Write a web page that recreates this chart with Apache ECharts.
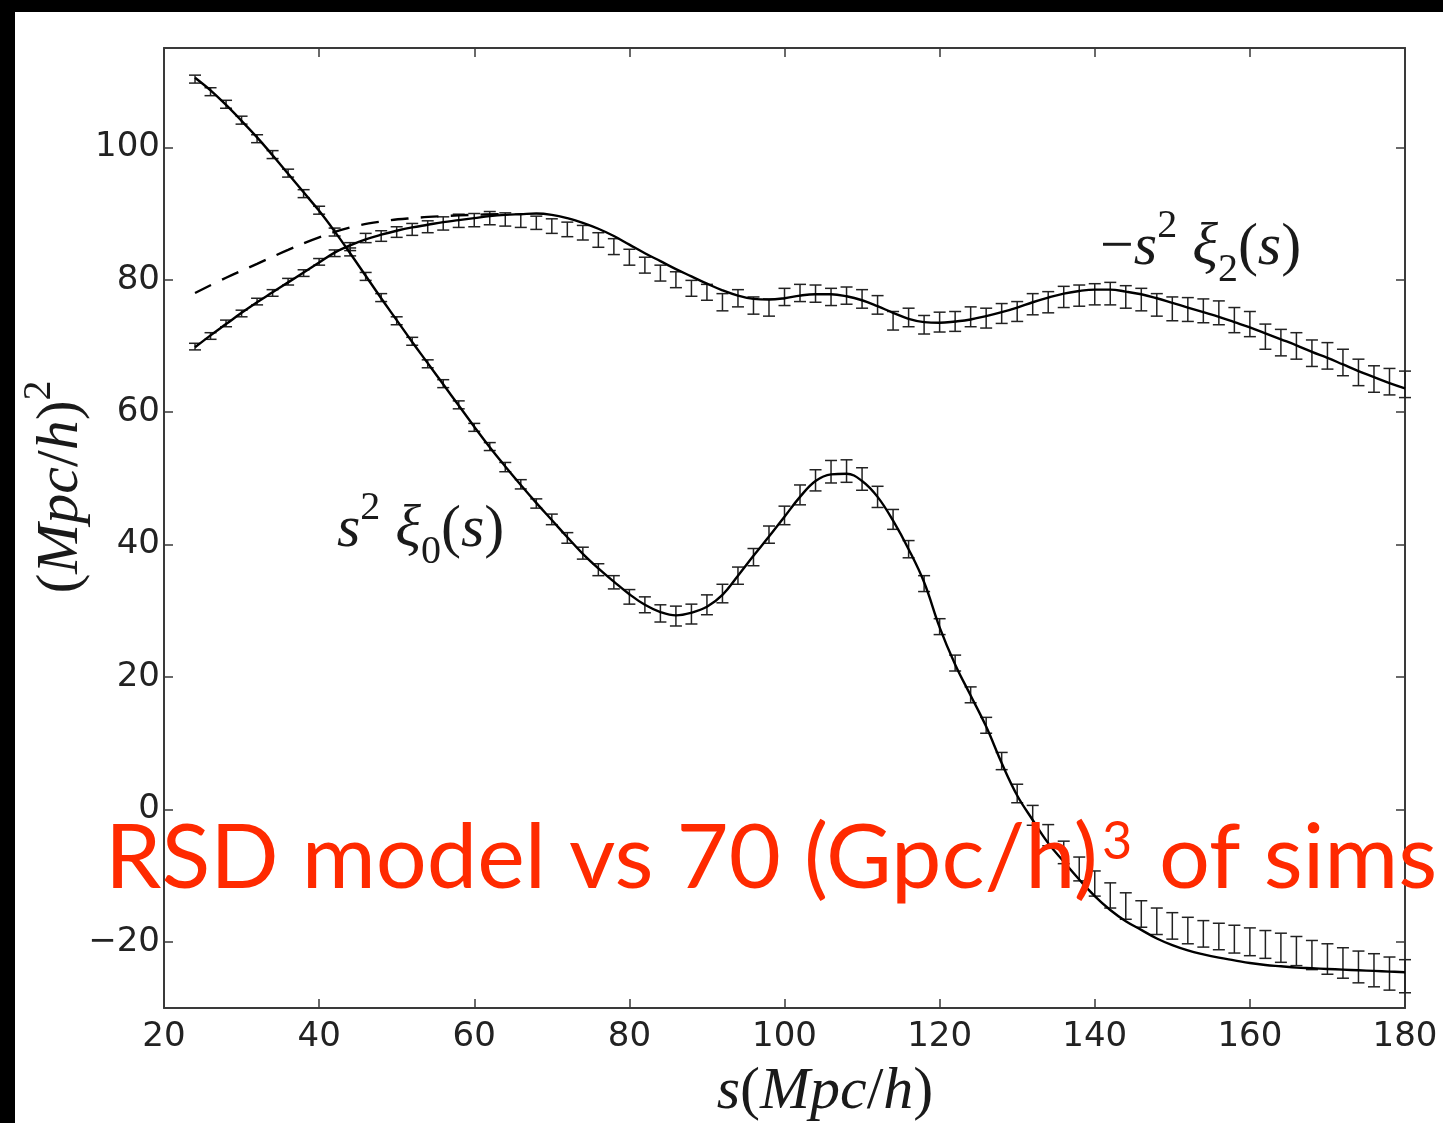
<!DOCTYPE html>
<html><head><meta charset="utf-8">
<script src="https://cdn.jsdelivr.net/npm/echarts@6/dist/echarts.min.js"></script>
<style>
html,body{margin:0;padding:0;background:#000;width:1443px;height:1123px;overflow:hidden}
#c{position:absolute;left:15px;top:12px;width:1428px;height:1111px;background:#fff}
</style></head><body><div id="c"></div>
<script>
// ---- data ----
const sData = [24,26,28,30,32,34,36,38,40,42,44,46,48,50,52,54,56,58,60,62,64,66,68,70,72,74,76,78,80,82,84,86,88,90,92,94,96,98,100,102,104,106,108,110,112,114,116,118,120,122,124,126,128,130,132,134,136,138,140,142,144,146,148,150,152,154,156,158,160,162,164,166,168,170,172,174,176,178,180];

const xi0Model = [110.5,108.6,106.4,104.0,101.5,98.8,96.0,93.2,90.4,87.3,
  84.0,80.6,77.2,73.9,70.6,67.4,64.2,61.0,57.8,54.7,
  51.8,49.0,46.3,43.7,41.1,38.6,36.4,34.4,32.5,30.9,
  29.8,29.3,29.7,30.6,32.4,35.3,38.3,41.2,44.2,47.2,
  49.6,50.6,50.7,49.6,47.2,43.6,39.3,34.3,27.5,21.9,
  17.2,12.5,7.0,2.1,-1.6,-5.1,-7.9,-10.6,-13.1,-15.2,
  -16.9,-18.2,-19.5,-20.5,-21.3,-21.9,-22.4,-22.8,-23.2,-23.5,
  -23.7,-23.9,-24.0,-24.1,-24.2,-24.3,-24.4,-24.5,-24.6];

const xi0Data = [110.3,108.4,106.5,104.1,101.3,98.9,96.1,93.0,90.5,87.2,
  84.2,80.5,77.3,73.8,70.7,67.3,64.3,61.1,57.7,54.8,
  51.7,49.1,46.2,43.8,41.0,38.7,36.2,34.3,32.1,30.9,
  29.6,29.2,29.5,30.9,32.6,35.3,38.1,41.5,44.4,47.5,
  49.7,51.0,51.1,49.9,47.2,43.8,39.3,34.1,27.6,22.1,
  17.3,12.7,7.3,2.4,-0.9,-3.9,-6.5,-9.0,-11.2,-13.0,
  -14.6,-15.8,-16.9,-17.6,-18.3,-18.8,-19.2,-19.6,-20.0,-20.4,
  -20.9,-21.4,-22.0,-22.6,-23.2,-23.8,-24.3,-24.8,-25.2];

const xi0Err = [0.6,0.6,0.6,0.6,0.6,0.6,0.6,0.6,0.6,0.6,
  0.6,0.6,0.6,0.6,0.6,0.6,0.6,0.6,0.6,0.6,
  0.7,0.7,0.7,0.8,0.8,0.9,0.9,1.0,1.1,1.2,
  1.3,1.5,1.5,1.5,1.4,1.3,1.3,1.3,1.4,1.5,
  1.6,1.7,1.7,1.7,1.6,1.5,1.3,1.2,1.2,1.2,
  1.2,1.2,1.3,1.4,1.5,1.6,1.7,1.8,1.9,1.9,
  2.0,2.0,2.0,2.0,2.0,2.0,2.0,2.1,2.1,2.1,
  2.2,2.2,2.2,2.3,2.3,2.4,2.5,2.5,2.5];

const xi2Model = [69.8,71.6,73.3,75.0,76.6,78.1,79.6,81.1,82.6,84.1,
  85.2,86.1,86.8,87.4,87.9,88.3,88.7,89.0,89.3,89.6,
  89.8,89.9,90.0,89.8,89.3,88.6,87.7,86.6,85.3,84.0,
  82.8,81.6,80.5,79.4,78.4,77.6,77.1,77.0,77.2,77.6,
  77.8,77.8,77.5,76.9,76.0,75.0,74.1,73.6,73.5,73.7,
  74.0,74.5,75.1,75.8,76.6,77.3,77.9,78.3,78.5,78.5,
  78.2,77.8,77.2,76.5,75.8,75.1,74.4,73.6,72.8,71.9,
  71.0,70.1,69.1,68.2,67.2,66.2,65.3,64.4,63.6];

const xi2Data = [69.9,71.5,73.4,74.9,76.7,78.0,79.7,81.0,82.7,84.0,
  85.0,86.3,86.6,87.2,87.6,88.0,88.5,88.9,89.0,89.3,
  89.1,88.9,88.6,88.1,87.6,87.1,86.0,85.0,83.4,82.2,
  81.0,80.0,78.7,78.1,76.6,77.2,76.1,75.8,77.4,78.0,
  77.9,77.4,77.6,77.1,76.2,73.8,74.3,73.2,73.6,73.7,
  74.4,74.2,74.9,75.2,76.3,76.6,77.4,77.6,77.8,77.9,
  77.4,77.0,76.2,75.6,75.5,75.3,75.0,73.9,73.3,71.4,
  70.5,70.0,68.9,68.5,67.5,66.0,65.0,64.6,64.2];

const xi2Err = [0.5,0.5,0.5,0.5,0.5,0.5,0.5,0.5,0.5,0.5,
  0.6,0.7,0.8,0.8,0.9,0.9,1.0,1.0,1.0,1.0,
  1.0,1.0,1.0,1.1,1.1,1.1,1.1,1.2,1.2,1.2,
  1.2,1.2,1.2,1.2,1.3,1.3,1.3,1.3,1.3,1.3,
  1.3,1.3,1.3,1.4,1.4,1.4,1.4,1.4,1.5,1.5,
  1.5,1.5,1.5,1.5,1.6,1.6,1.6,1.6,1.6,1.7,
  1.7,1.7,1.7,1.8,1.8,1.8,1.8,1.9,1.9,1.9,
  2.0,2.0,2.0,2.0,2.0,2.0,2.0,2.0,2.0];

const dashS = [24,28,32,36,40,44,48,52,56,60,64];
const dashModel = [78.0,80.3,82.4,84.5,86.4,87.9,88.8,89.3,89.6,89.8,89.9];

const xTicks = [20,40,60,80,100,120,140,160,180];
const yTicks = [-20,0,20,40,60,80,100];

const titleText = 'RSD model vs 70 (Gpc/h)';
const titleSup = '3';
const titleTail = ' of sims';

// ---- chart ----
const chart = echarts.init(document.getElementById('c'), null, {renderer: 'canvas'});
const INK = '#1a1a1a';
const FRAME = '#3a3a3a';
const RED = '#ff2a00';
const MF = 'Liberation Serif';
const mathRich = {
  i: {fontFamily: MF, fontStyle: 'italic', fontSize: 60, lineHeight: 84, verticalAlign: 'middle', fill: INK},
  u: {fontFamily: MF, fontSize: 60, lineHeight: 84, verticalAlign: 'middle', fill: INK},
  sp: {fontFamily: MF, fontSize: 40, lineHeight: 40, verticalAlign: 'top', fill: INK},
  sb: {fontFamily: MF, fontSize: 40, lineHeight: 40, verticalAlign: 'bottom', fill: INK}
};

function errRender(params, api) {
  const s = api.value(0), v = api.value(1), e = api.value(2);
  const lo = api.coord([s, v - e]);
  const hi = api.coord([s, v + e]);
  const w = 6;
  const st = {stroke: '#222', lineWidth: 1.5};
  return {type: 'group', children: [
    {type: 'line', shape: {x1: lo[0], y1: lo[1], x2: hi[0], y2: hi[1]}, style: st},
    {type: 'line', shape: {x1: lo[0] - w, y1: lo[1], x2: lo[0] + w, y2: lo[1]}, style: st},
    {type: 'line', shape: {x1: hi[0] - w, y1: hi[1], x2: hi[0] + w, y2: hi[1]}, style: st}
  ]};
}

const axisLine = {show: true, onZero: false, lineStyle: {color: FRAME, width: 2}};
const axisTick = {show: true, inside: true, length: 9, lineStyle: {color: FRAME, width: 1.5}};
const lblStyle = {fontFamily: 'DejaVu Sans', fontSize: 34, color: '#222'};

const option = {
  animation: false,
  grid: {left: 149, top: 36, right: 38, bottom: 115},
  xAxis: [
    {type: 'value', min: 20, max: 180, interval: 20, position: 'bottom',
     axisLine: axisLine, axisTick: Object.assign({customValues: xTicks}, axisTick),
     axisLabel: Object.assign({customValues: xTicks, margin: 12}, lblStyle),
     splitLine: {show: false}},
    {type: 'value', min: 20, max: 180, interval: 20, position: 'top',
     axisLine: axisLine, axisTick: Object.assign({customValues: xTicks}, axisTick),
     axisLabel: {show: false}, splitLine: {show: false}}
  ],
  yAxis: [
    {type: 'value', min: -30, max: 115, position: 'left',
     axisLine: axisLine, axisTick: Object.assign({customValues: yTicks}, axisTick),
     axisLabel: Object.assign({customValues: yTicks, margin: 4,
        formatter: v => String(v).replace('-', '\u2212')}, lblStyle),
     splitLine: {show: false}},
    {type: 'value', min: -30, max: 115, position: 'right',
     axisLine: axisLine, axisTick: Object.assign({customValues: yTicks}, axisTick),
     axisLabel: {show: false}, splitLine: {show: false}}
  ],
  series: [
    {type: 'custom', renderItem: errRender, encode: {x: 0, y: 1},
     data: sData.map((s, i) => [s, xi0Data[i], xi0Err[i]]), z: 2},
    {type: 'custom', renderItem: errRender, encode: {x: 0, y: 1},
     data: sData.map((s, i) => [s, xi2Data[i], xi2Err[i]]), z: 2},
    {type: 'line', data: sData.map((s, i) => [s, xi0Model[i]]), smooth: 0.4,
     showSymbol: false, lineStyle: {color: '#000', width: 2.4}, z: 3},
    {type: 'line', data: sData.map((s, i) => [s, xi2Model[i]]), smooth: 0.4,
     showSymbol: false, lineStyle: {color: '#000', width: 2.4}, z: 3},
    {type: 'line', data: dashS.map((s, i) => [s, dashModel[i]]), smooth: 0.4,
     showSymbol: false, lineStyle: {color: '#000', width: 2.4, type: [18, 12]}, z: 3}
  ],
  graphic: [
    {type: 'text', x: 1085, y: 236, z: 10,
     style: {text: '{u|\u2212}{i|s}{sp|2}{u| }{i|\u03BE}{sb|2}{u|(}{i|s}{u|)}', rich: mathRich,
             align: 'left', verticalAlign: 'middle'}},
    {type: 'text', x: 322, y: 518, z: 10,
     style: {text: '{i|s}{sp|2}{u| }{i|\u03BE}{sb|0}{u|(}{i|s}{u|)}', rich: mathRich,
             align: 'left', verticalAlign: 'middle'}},
    {type: 'text', x: 810, y: 1080, z: 10,
     style: {text: '{i|s}{u|(}{i|Mpc}{u|/}{i|h}{u|)}', rich: mathRich,
             align: 'center', verticalAlign: 'middle'}},
    {type: 'text', x: 46, y: 475, rotation: Math.PI / 2, z: 10,
     style: {text: '{u|(}{i|Mpc}{u|/}{i|h}{u|)}{sp|2}', rich: mathRich,
             align: 'center', verticalAlign: 'middle'}},
    {type: 'text', x: 90, y: 782, z: 20,
     style: {text: '{a|' + titleText + '}{b|' + titleSup + '}{a|' + titleTail + '}',
       align: 'left', verticalAlign: 'top',
       rich: {
         a: {fontFamily: 'Lato', fontSize: 90, lineHeight: 110, verticalAlign: 'bottom', fill: RED},
         b: {fontFamily: 'Lato', fontSize: 52, lineHeight: 52, verticalAlign: 'top', fill: RED, padding: [22, 4, 0, 4]}
       }}}
  ]
};
chart.setOption(option);
</script></body></html>
